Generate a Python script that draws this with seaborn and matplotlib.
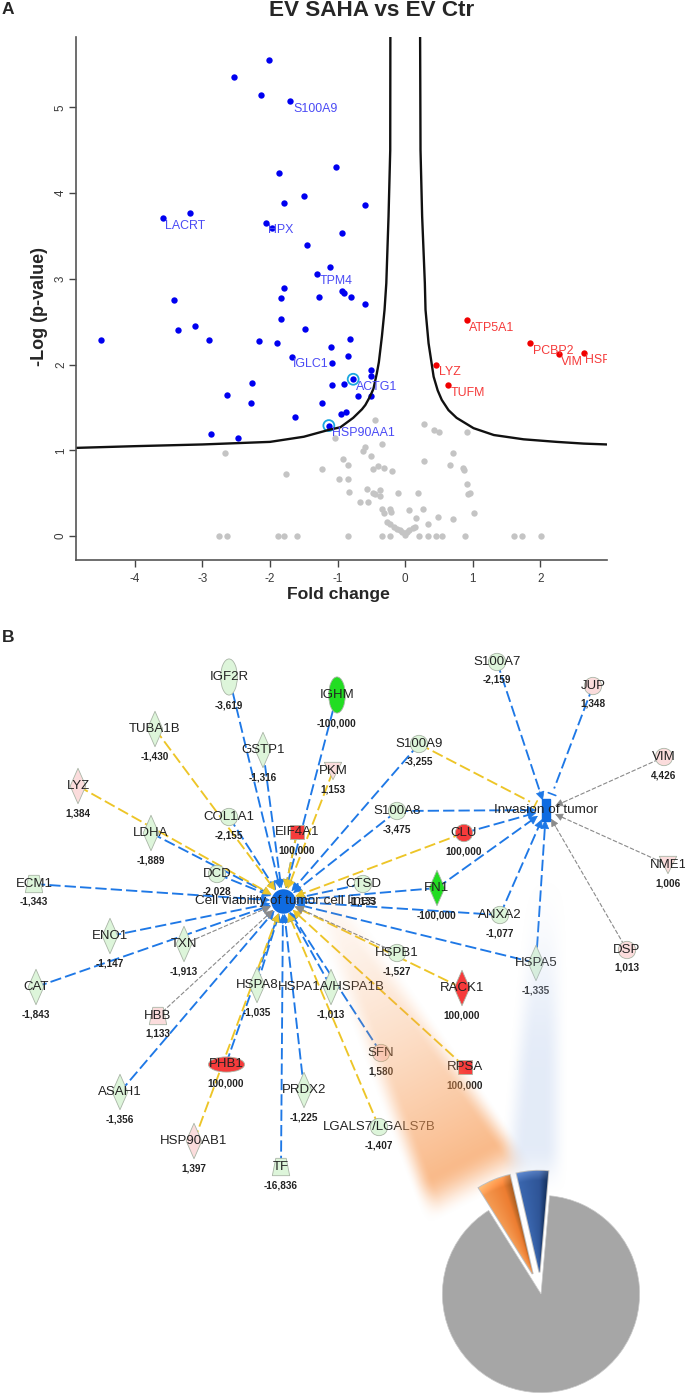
import numpy as np
import pandas as pd
import matplotlib
matplotlib.use('Agg')
import matplotlib.pyplot as plt
import seaborn as sns
from matplotlib.path import Path
from matplotlib.patches import Rectangle
from matplotlib.transforms import Affine2D

# ---- volcano values (fold change, -log p)
blue_fc = [-2.01, -2.54, -2.13, -1.70, -1.02, -1.86, -1.50, -1.79, -3.19, -3.59, -2.06, -1.97, -1.46, -1.11,
           -1.31, -1.79, -1.84, -1.27, -3.42, -1.84, -0.60, -0.93, -0.94, -0.91, -0.80, -0.60, -0.82, -0.85,
           -0.50, -0.50, -0.77, -0.90, -0.70, -0.50, -0.87, -0.95, -3.36, -3.11, -2.91, -4.50, -2.16, -1.90,
           -1.48, -1.10, -1.68, -1.08, -2.26, -2.63, -1.08, -2.28, -1.23, -1.63, -1.13, -2.87, -2.48]
blue_p = [5.55, 5.35, 5.14, 5.07, 4.30, 4.23, 3.97, 3.88, 3.77, 3.71, 3.65, 3.59, 3.39, 3.14,
          3.06, 2.89, 2.78, 2.79, 2.75, 2.53, 3.86, 3.53, 2.86, 2.84, 2.79, 2.71, 2.30, 2.10,
          1.94, 1.87, 1.83, 1.78, 1.64, 1.64, 1.45, 1.42, 2.40, 2.45, 2.29, 2.29, 2.28, 2.25,
          2.42, 2.21, 2.09, 2.02, 1.79, 1.65, 1.76, 1.55, 1.55, 1.39, 1.29, 1.19, 1.15]
red_fc = [0.91, 1.85, 2.27, 2.64, 0.46, 0.63]
red_p = [2.52, 2.25, 2.12, 2.14, 2.00, 1.76]
gray_fc = [-0.45, -0.34, -1.04, -0.60, -0.62, -0.50, -0.92, -0.85, -1.23, -0.47, -0.40, -0.32, -0.20, -0.98,
           -0.85, -0.83, -0.57, -0.47, -0.44, -0.37, -0.38, -0.10, 0.19, -0.67, -0.55, -0.35, -0.23, -0.32,
           -0.21, 0.06, 0.16, -0.27, -0.23, -0.17, -0.12, -0.08, -0.05, 0.00, 0.02, 0.06, 0.11, 0.14,
           0.28, 0.43, 0.50, 0.91, 0.70, 0.28, 0.66, 0.86, 0.87, 0.91, 0.96, 0.93, 0.27, 1.01, 0.48, 0.70, 0.34,
           -2.66, -1.76,
           -2.76, -2.64, -1.88, -1.79, -1.60, -0.85, -0.34, -0.22, 0.21, 0.34, 0.46, 0.55, 0.89, 1.61, 1.73, 2.01]
gray_p = [1.36, 1.08, 1.14, 1.04, 0.99, 0.94, 0.90, 0.83, 0.78, 0.78, 0.82, 0.79, 0.76, 0.67,
          0.67, 0.52, 0.55, 0.50, 0.49, 0.54, 0.47, 0.50, 0.50, 0.40, 0.40, 0.32, 0.32, 0.27,
          0.28, 0.31, 0.21, 0.17, 0.14, 0.11, 0.09, 0.07, 0.05, 0.01, 0.05, 0.07, 0.10, 0.11,
          1.31, 1.24, 1.21, 1.21, 0.97, 0.88, 0.83, 0.80, 0.77, 0.61, 0.50, 0.49, 0.32, 0.27, 0.22, 0.20, 0.14,
          0.97, 0.72,
          0, 0, 0, 0, 0, 0, 0, 0, 0, 0, 0, 0, 0, 0, 0, 0]
ringed_fc = [-0.77, -1.13]
ringed_p = [1.83, 1.29]

curve_left_x = [-4.87, -4.0, -3.0, -2.0, -1.5, -1.13, -0.96, -0.77, -0.64, -0.59, -0.52, -0.47, -0.42, -0.39, -0.345, -0.306, -0.28, -0.247, -0.222, -0.22]
curve_left_y = [1.03, 1.05, 1.07, 1.10, 1.16, 1.24, 1.27, 1.38, 1.48, 1.53, 1.63, 1.72, 1.90, 2.03, 2.33, 2.64, 2.95, 3.73, 4.50, 5.82]
curve_right_x = [0.22, 0.226, 0.25, 0.29, 0.30, 0.345, 0.42, 0.48, 0.54, 0.64, 0.76, 1.01, 1.31, 1.75, 2.24, 2.64, 2.98]
curve_right_y = [5.82, 4.50, 3.73, 2.95, 2.64, 2.25, 1.86, 1.70, 1.59, 1.47, 1.38, 1.26, 1.18, 1.13, 1.10, 1.08, 1.07]

blue_names = ['LACRT', 'S100A9', 'HPX', 'TPM4', 'IGLC1', 'ACTG1', 'HSP90AA1']
blue_name_x = [-3.56, -1.66, -2.03, -1.27, -1.66, -0.73, -1.08]
blue_name_y = [3.62, 4.98, 3.57, 2.98, 2.01, 1.74, 1.20]
red_names = ['ATP5A1', 'PCBP2', 'VIM', 'HSP', 'LYZ', 'TUFM']
red_name_x = [0.94, 1.89, 2.31, 2.66, 0.50, 0.67]
red_name_y = [2.43, 2.16, 2.03, 2.05, 1.92, 1.67]

# ---- network
node_names = ['IGF2R', 'TUBA1B', 'GSTP1', 'LYZ', 'COL1A1', 'LDHA', 'EIF4A1', 'PKM', 'DCD', 'ECM1', 'IGHM',
              'S100A9', 'S100A7', 'JUP', 'VIM', 'S100A8', 'CLU', 'NME1', 'CTSD', 'FN1', 'ANXA2',
              'ENO1', 'TXN', 'CAT', 'HSPA8', 'HSPA1A/HSPA1B', 'HBB', 'PHB1', 'ASAH1', 'PRDX2', 'HSP90AB1',
              'TF', 'HSPB1', 'RACK1', 'HSPA5', 'DSP', 'SFN', 'RPSA', 'LGALS7/LGALS7B']
node_values = ['-3,619', '-1,430', '-1,316', '1,384', '-2,155', '-1,889', '100,000', '1,153', '-2,028', '-1,343', '-100,000',
               '-3,255', '-2,159', '1,348', '4,426', '-3,475', '100,000', '1,006', '-1,133', '-100,000', '-1,077',
               '-1,147', '-1,913', '-1,843', '-1,035', '-1,013', '1,133', '100,000', '-1,356', '-1,225', '1,397',
               '-16,836', '-1,527', '100,000', '-1,335', '1,013', '1,580', '100,000', '-1,407']
node_x = [229, 155, 263, 78, 229, 151, 297, 333, 217, 34, 337,
          419, 497, 593, 664, 397, 464, 668, 363, 437, 500,
          110, 184, 36, 257, 331, 158, 226, 120, 304, 194,
          281, 397, 462, 536, 627, 381, 465, 379]
node_y = [677, 729, 750, 786, 817, 833, 832, 771, 874, 884, 695,
          744, 662, 686, 757, 811, 833, 865, 884, 888, 915,
          936, 944, 987, 985, 987, 1016, 1064, 1092, 1090, 1141,
          1167, 953, 988, 963, 950, 1053, 1067, 1127]
node_shape = ['tall', 'diamond', 'diamond', 'diamond', 'circle', 'diamond', 'square', 'vee', 'circle', 'trap', 'tall',
              'circle', 'circle', 'circle', 'circle', 'circle', 'circle', 'vee', 'circle', 'diamond', 'circle',
              'diamond', 'diamond', 'diamond', 'diamond', 'diamond', 'trap', 'wide', 'diamond', 'diamond', 'diamond',
              'trap', 'circle', 'diamond', 'diamond', 'circle', 'circle', 'square', 'circle']
node_color = ['#DDF5DA', '#DDF5DA', '#DDF5DA', '#FBDCDC', '#DDF5DA', '#DDF5DA', '#F63B3B', '#FBDCDC', '#DDF5DA', '#DDF5DA', '#22DD22',
              '#DDF5DA', '#DDF5DA', '#FBDCDC', '#FBDCDC', '#DDF5DA', '#F63B3B', '#FBDCDC', '#DDF5DA', '#22DD22', '#DDF5DA',
              '#DDF5DA', '#DDF5DA', '#DDF5DA', '#DDF5DA', '#DDF5DA', '#FBDCDC', '#F63B3B', '#DDF5DA', '#DDF5DA', '#FBDCDC',
              '#DDF5DA', '#DDF5DA', '#F63B3B', '#DDF5DA', '#FBDCDC', '#FBDCDC', '#F63B3B', '#DDF5DA']

viability_blue = ['IGF2R', 'GSTP1', 'COL1A1', 'IGHM', 'EIF4A1', 'S100A9', 'S100A8', 'LDHA', 'DCD', 'ECM1', 'ENO1', 'CAT',
                  'ASAH1', 'PHB1', 'HSPA8', 'TF', 'PRDX2', 'CTSD', 'FN1', 'ANXA2', 'HSPA5', 'HSPA1A/HSPA1B', 'SFN']
viability_yellow = ['TUBA1B', 'LYZ', 'EIF4A1', 'PKM', 'CLU', 'RACK1', 'RPSA', 'HSP90AB1', 'LGALS7/LGALS7B']
viability_gray = ['TXN', 'HBB', 'HSPB1']
invasion_blue = ['S100A7', 'S100A8', 'CLU', 'FN1', 'ANXA2', 'HSPA5']
invasion_gray = ['VIM', 'NME1', 'DSP']
invasion_bar_blue = ['JUP']
invasion_bar_yellow = ['S100A9']

pie_values = [89.7, 5.0, 5.3]
pie_colors = ['#A6A6A6', '#2F5597', '#ED7D31']

sns.set_style('white')
plt.rcParams['font.family'] = ['Liberation Sans', 'DejaVu Sans']

W, H = 685, 1394
fig = plt.figure(figsize=(W / 100, H / 100), dpi=100, facecolor='white')

fig.text(2 / W, 1 - 10 / H, 'A', fontsize=12.5, fontweight='bold', va='center', ha='left')
fig.text(2 / W, 1 - 637 / H, 'B', fontsize=12.5, fontweight='bold', va='center', ha='left')
fig.text(372 / W, 1 - 11 / H, 'EV SAHA vs EV Ctr', fontsize=16.2, fontweight='bold', va='center', ha='center')

## ------------ panel A, volcano ------------------------------------------
ax = fig.add_axes([76 / W, 1 - 560 / H, (606.7 - 76) / W, (560 - 37) / H])
ax.set_facecolor('none')
dot = dict(s=21, linewidth=0, legend=False)
sns.scatterplot(x=gray_fc, y=gray_p, color='#C4C4C4', ax=ax, **dot)
sns.scatterplot(x=blue_fc, y=blue_p, color='#0000F0', ax=ax, **dot)
sns.scatterplot(x=red_fc, y=red_p, color='#F00000', ax=ax, **dot)
sns.scatterplot(x=ringed_fc, y=ringed_p, facecolor='none', edgecolor='#1BA8E0', s=62, linewidth=1.3, ax=ax, legend=False)
sns.lineplot(x=curve_left_x, y=curve_left_y, sort=False, estimator=None, color='#111111', linewidth=1.7, ax=ax)
sns.lineplot(x=curve_right_x, y=curve_right_y, sort=False, estimator=None, color='#111111', linewidth=1.7, ax=ax)

for n, x, y in zip(blue_names, blue_name_x, blue_name_y):
    ax.text(x, y, n, color='#4A4AF5', fontsize=8.9, ha='left', va='center', clip_on=True)
for n, x, y in zip(red_names, red_name_x, red_name_y):
    ax.text(x, y, n, color='#F53A3A', fontsize=8.9, ha='left', va='center', clip_on=True)

ax.set_xlim(-4.87, 2.98)
ax.set_ylim(-0.277, 5.82)
ax.set_xticks([-4, -3, -2, -1, 0, 1, 2])
ax.set_yticks([0, 1, 2, 3, 4, 5])
ax.tick_params(axis='both', direction='out', length=5, width=1, color='#444444', labelcolor='#3A3A3A', labelsize=8.4, left=True, bottom=True)
ax.tick_params(axis='y', pad=1.5)
ax.tick_params(axis='x', pad=4)
plt.setp(ax.get_yticklabels(), rotation=90, va='center')
ax.set_xticklabels(['-4', '-3', '-2', '-1', '0', '1', '2'])
sns.despine(ax=ax)
for s in ['left', 'bottom']:
    ax.spines[s].set_color('#555555')
    ax.spines[s].set_linewidth(1.2)
fig.text(338 / W, 1 - 595 / H, 'Fold change', fontsize=12.6, fontweight='bold', ha='center', va='center')
fig.text(40 / W, 1 - 307 / H, '-Log (p-value)', fontsize=13, fontweight='bold', ha='center', va='center', rotation=90)

## ------------ panel B, network, axes in image pixels -----------------------
net = fig.add_axes([0, 0, 1, 1], zorder=3)
net.set_facecolor('none')
net.set_xlim(0, W)
net.set_ylim(H, 0)
net.axis('off')

nodes = pd.DataFrame({'name': node_names, 'value': node_values, 'x': node_x, 'y': node_y,
                      'shape': node_shape, 'color': node_color})
pos = {n: (x, y) for n, x, y in zip(node_names, node_x, node_y)}
hub1 = (283, 901)
hub2 = (546, 810)

BLUE = '#1E78E6'
YELLOW = '#EDC527'
GRAY = '#8A8A8A'


def edge(name, hub, color, radius, head=True, lw=1.35, dashes=(6, 2.2), scale=14):
    x0, y0 = pos[name]
    dx, dy = x0 - hub[0], y0 - hub[1]
    d = np.hypot(dx, dy)
    ux, uy = dx / d, dy / d
    end = (hub[0] + ux * radius, hub[1] + uy * radius)
    net.plot([x0, end[0] + ux * 6], [y0, end[1] + uy * 6], color=color, lw=lw, dashes=dashes, zorder=2)
    if head:
        net.annotate('', xy=end, xytext=(end[0] + ux * 10, end[1] + uy * 10),
                     arrowprops=dict(arrowstyle='-|>', color=color, lw=0.5, mutation_scale=scale, shrinkA=0, shrinkB=0), zorder=3)
    else:
        px, py = -uy, ux
        net.plot([end[0] + px * 4, end[0] - px * 4], [end[1] + py * 4, end[1] - py * 4], color=color, lw=1.2, zorder=3)


for n in viability_blue:
    edge(n, hub1, BLUE, 13)
for n in viability_yellow:
    edge(n, hub1, YELLOW, 13)
for n in viability_gray:
    edge(n, hub1, GRAY, 13, lw=0.8, dashes=(4, 1.6))
for n in invasion_blue:
    edge(n, hub2, BLUE, 10)
for n in invasion_gray:
    edge(n, hub2, GRAY, 10, lw=0.8, dashes=(4, 1.6), scale=12)
for n in invasion_bar_blue:
    edge(n, hub2, BLUE, 17, head=False)
for n in invasion_bar_yellow:
    edge(n, hub2, YELLOW, 12, head=False)

# hubs
sns.scatterplot(x=[hub1[0]], y=[hub1[1]], color='#0F6BE0', s=310, linewidth=0, ax=net, zorder=4, legend=False)
net.add_patch(Rectangle((hub2[0] - 4, hub2[1] - 11), 8, 22, color='#0F6BE0', zorder=4))

# node shapes, size is the tallest side in points
diamond = Path([(0, 1), (0.44, 0), (0, -1), (-0.44, 0), (0, 1)], closed=True)
tall = Path.unit_circle().transformed(Affine2D().scale(0.46, 1))
wide = Path.unit_circle().transformed(Affine2D().scale(1, 0.42))
trap = Path([(-1, -1), (1, -1), (0.6, 1), (-0.6, 1), (-1, -1)], closed=True)
vee = Path([(-1, 1), (1, 1), (0, -1), (-1, 1)], closed=True)
markers = {'diamond': (diamond, 25.5), 'tall': (tall, 26), 'wide': (wide, 26), 'trap': (trap, 12.5),
           'vee': (vee, 12.5), 'circle': ('o', 12.5), 'square': ('s', 10.5)}
value_off = {'diamond': 27.5, 'tall': 28.5, 'wide': 19, 'trap': 18, 'vee': 18, 'circle': 18, 'square': 18.5}
palette = {c: c for c in set(node_color)}
for shape, (m, size) in markers.items():
    sub = nodes[nodes['shape'] == shape]
    sns.scatterplot(data=sub, x='x', y='y', hue='color', palette=palette, marker=m, s=size ** 2,
                    edgecolor='#A9B5A6', linewidth=0.6, ax=net, zorder=4, legend=False)

net.set_xlabel('')
net.set_ylabel('')
net.set_xlim(0, W)
net.set_ylim(H, 0)

for _, r in nodes.iterrows():
    net.text(r['x'], r['y'], r['name'], fontsize=9.5, color='#222222', ha='center', va='center', zorder=6)
    off = value_off[r['shape']]
    net.text(r['x'], r['y'] + off, r['value'], fontsize=7.2, fontweight='bold', color='#222222', ha='center', va='center', zorder=6)
net.text(285, 901, 'Cell viability of tumor cell lines', fontsize=9.7, color='#222222', ha='center', va='center', zorder=6)
net.text(546, 810, 'Invasion of tumor', fontsize=9.7, color='#222222', ha='center', va='center', zorder=6)

# soft glow bands going up from the pie slices
yy, xx = np.mgrid[0:H, 0:W]


def smooth(v):
    v = np.clip(v, 0, 1)
    return v * v * (3 - 2 * v)


p0 = np.array([310.0, 870.0])
p1 = np.array([482.0, 1198.0])
along = p1 - p0
length = np.hypot(*along)
t = ((xx - p0[0]) * along[0] + (yy - p0[1]) * along[1]) / length ** 2
dist = np.abs((xx - p0[0]) * along[1] - (yy - p0[1]) * along[0]) / length
tc = np.clip(t, 0, 1)
half = 5 + 47 * tc
a = smooth((half + 12 - dist) / 24) * (0.04 + 0.78 * tc ** 1.5) * smooth(t / 0.08) * smooth((1.0 - t) / 0.12)
glow = np.zeros((H, W, 4))
glow[..., 0], glow[..., 1], glow[..., 2] = 247 / 255, 155 / 255, 85 / 255
glow[..., 3] = a
net.imshow(glow, extent=(0, W, H, 0), origin='upper', aspect='auto', zorder=7, interpolation='bilinear')

left = 522 - (yy - 900) * 0.09
a2 = smooth((xx - left) / 24) * smooth((568 - xx) / 24) * smooth((yy - 870) / 200) * smooth((1195 - yy) / 50) * 0.42
glow2 = np.zeros((H, W, 4))
glow2[..., 0], glow2[..., 1], glow2[..., 2] = 190 / 255, 208 / 255, 238 / 255
glow2[..., 3] = a2
net.imshow(glow2, extent=(0, W, H, 0), origin='upper', aspect='auto', zorder=7, interpolation='bilinear')
net.set_xlim(0, W)
net.set_ylim(H, 0)

## ------------ pie ---------------------------------------------------------
R = 98.6
L = 1.4
size = 2 * L * R
pie_ax = fig.add_axes([(541 - size / 2) / W, (H - 1294 - size / 2) / H, size / W, size / H], zorder=4)
pie_ax.set_facecolor('none')
# angles go counterclockwise from the top right edge of the gap: blue, orange, gray
wedges, _ = pie_ax.pie([pie_values[1], pie_values[2], pie_values[0]], colors=[pie_colors[1], pie_colors[2], pie_colors[0]],
                       startangle=85, counterclock=True, explode=[0.22, 0.22, 0], radius=1.0)
wedges[2].set_edgecolor('#C9C9C9')
wedges[2].set_linewidth(0.5)

stops = {0: ['#3A66AE', '#2F5597', '#14305C'], 1: ['#F49A52', '#ED7D31', '#A45C20']}
for i in [0, 1]:
    w = wedges[i]
    w.set_radius(1.03)
    w.set_edgecolor('#BFBFBF')
    w.set_linewidth(1.4)
    gx, gy = np.meshgrid(np.linspace(-L, L, 280), np.linspace(L, -L, 280))
    ang = np.degrees(np.arctan2(gy - w.center[1], gx - w.center[0]))
    u = np.clip((w.theta2 - ang) / (w.theta2 - w.theta1), 0, 1)
    cols = np.array([matplotlib.colors.to_rgb(c) for c in stops[i]])
    img = np.zeros(gx.shape + (3,))
    for k in range(3):
        img[..., k] = np.interp(u, [0, 0.7, 1], cols[:, k])
    rad = np.hypot(gx - w.center[0], gy - w.center[1])
    img = img + (np.clip((rad - 0.93) / 0.1, 0, 1) * 0.15)[..., None]
    im = pie_ax.imshow(np.clip(img, 0, 1), extent=(-L, L, -L, L), origin='upper', zorder=w.get_zorder() + 0.5, aspect='equal')
    im.set_clip_path(w)
pie_ax.set_xlim(-L, L)
pie_ax.set_ylim(-L, L)
pie_ax.axis('off')

fig.savefig('out.png', dpi=100)
